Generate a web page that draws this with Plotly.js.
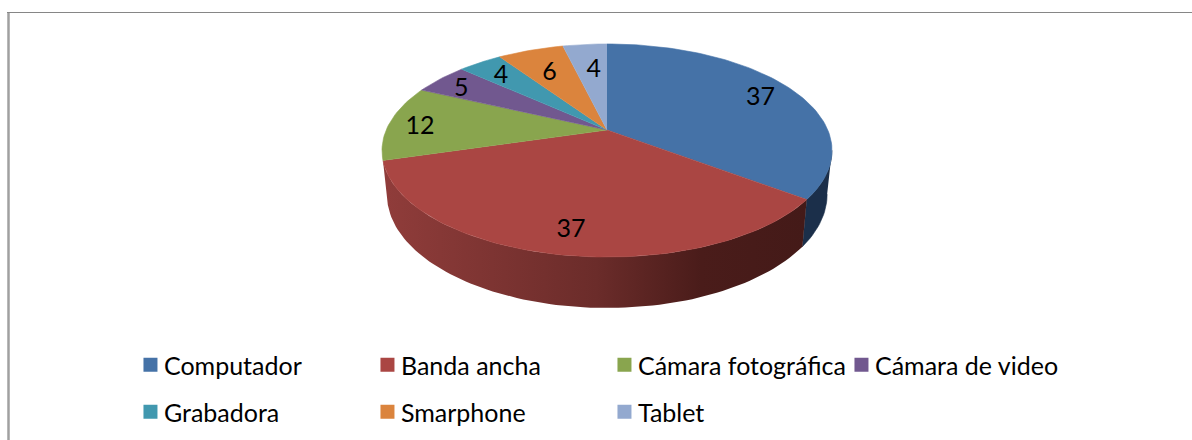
<!DOCTYPE html>
<html>
<head>
<meta charset="utf-8">
<script src="https://cdn.plot.ly/plotly-3.0.1.min.js"></script>
<style>html,body{margin:0;padding:0;background:#fff}#chart{width:1192px;height:440px}</style>
</head>
<body>
<div id="chart"></div>
<script>
const categories = ['Computador','Banda ancha','Cámara fotográfica','Cámara de video','Grabadora','Smarphone','Tablet'];
const values = [37,37,12,5,4,6,4];
const colors = ['#4572A7','#AA4643','#89A54E','#71588F','#4198AF','#DB843D','#93A9CF'];

// perspective of the pie disc, in chart pixels
const topDisc = {cx:607, cy:130, a:220.8, b:102.6, k:0.1925};
const botDisc = {cx:607, cy:172.5, a:216, b:109.4, k:0.1925};
const labelNudge = [[-3,5],[4,-2],[-2,4],[-2,4],[4,5],[9,13],[6,15]];
const labelRadius = 0.85;
const FONT = 'Lato, Carlito, Calibri, sans-serif';

function project(d, deg, r){
  const t = deg*Math.PI/180, X = r*Math.sin(t), Y = -r*Math.cos(t), w = 1-d.k*Y;
  return [d.cx+d.a*X/w, d.cy+d.b*Y/w];
}
function arc(d, from, to){
  const n = Math.max(2, Math.ceil(Math.abs(to-from)/1.5)), out = [];
  for(let i=0;i<=n;i++) out.push(project(d, from+(to-from)*i/n, 1));
  return out;
}
const total = values.reduce((s,v)=>s+v,0);
const bounds = [0];
values.forEach(v=>bounds.push(bounds[bounds.length-1]+v/total*360));

const traces = [];
function poly(pts, color, extra){
  traces.push(Object.assign({
    type:'scatter', mode:'lines', x:pts.map(p=>p[0]), y:pts.map(p=>p[1]),
    fill:'toself', fillcolor:color, line:{color:color,width:0.6},
    hoverinfo:'skip', showlegend:false
  }, extra||{}));
}
// side walls: computador's visible end, then banda ancha with its shading
const wallBlueFrom = 101;
poly(arc(topDisc,wallBlueFrom,bounds[1]).concat(arc(botDisc,bounds[1],wallBlueFrom)), '#1B2F4A');
poly(arc(topDisc,bounds[1],bounds[2]).concat(arc(botDisc,bounds[2],bounds[1])), '#6B2C2A', {
  line:{width:0},
  fillgradient:{type:'horizontal', start:388, stop:805, colorscale:[[0,'#8F3C3A'],[0.5,'#6B2C2A'],[0.75,'#4A1C1A'],[1,'#441A18']]}
});
// top faces
values.forEach((v,i)=>{
  poly([[topDisc.cx,topDisc.cy]].concat(arc(topDisc,bounds[i],bounds[i+1])), colors[i], {name:categories[i]});
});
// data labels
const lab = values.map((v,i)=>{
  const p = project(topDisc,(bounds[i]+bounds[i+1])/2,labelRadius);
  return [p[0]+labelNudge[i][0], p[1]+labelNudge[i][1]];
});
traces.push({type:'scatter', mode:'text', x:lab.map(p=>p[0]), y:lab.map(p=>p[1]),
  text:values.map(String), textposition:'middle center',
  textfont:{family:FONT,size:25,color:'#000'}, hoverinfo:'skip', showlegend:false});
// legend entries: four on the first row, three on the second
categories.forEach((c,i)=>{
  traces.push({type:'scatter', mode:'markers', x:[null], y:[null], name:c,
    marker:{symbol:'square',size:14,color:colors[i],line:{width:0}},
    legend:i<4?'legend':'legend2', hoverinfo:'skip'});
});
const legendBase = {orientation:'h', x:0.104, xanchor:'left', yanchor:'top',
  entrywidth:192, entrywidthmode:'pixels', bgcolor:'rgba(0,0,0,0)', borderwidth:0,
  font:{family:FONT,size:25,color:'#000'}, traceorder:'normal', itemclick:false, itemdoubleclick:false};
const layout = {
  width:1192, height:440, margin:{l:0,r:0,t:0,b:0},
  paper_bgcolor:'#fff', plot_bgcolor:'#fff',
  xaxis:{range:[0,1192],visible:false,fixedrange:true},
  yaxis:{range:[440,0],visible:false,fixedrange:true},
  showlegend:true,
  legend:Object.assign({y:1-342/440},legendBase),
  legend2:Object.assign({y:1-389/440},legendBase),
  shapes:[
    {type:'line',xref:'x',yref:'y',x0:8.5,x1:8.5,y0:12,y1:440,line:{color:'#A0A0A0',width:2.5}},
    {type:'line',xref:'x',yref:'y',x0:7,x1:1192,y0:12.5,y1:12.5,line:{color:'#868686',width:1}}
  ]
};
const gd = document.getElementById('chart');
function nudgeSwatches(){
  gd.querySelectorAll('.legendsymbols').forEach(n=>n.setAttribute('transform','translate(6.5,0)'));
}
Plotly.newPlot(gd,traces,layout,{displayModeBar:false}).then(()=>{
  nudgeSwatches(); gd.on('plotly_afterplot',nudgeSwatches);
});
</script>
</body>
</html>
